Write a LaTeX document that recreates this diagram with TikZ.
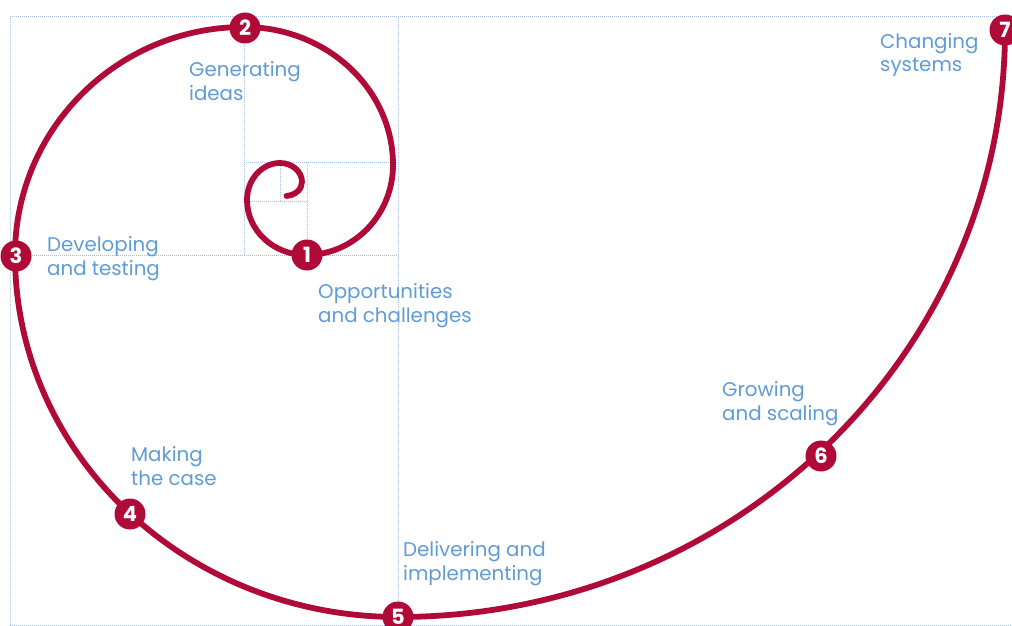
\documentclass[tikz,border=0pt]{standalone}
\usepackage{fontspec}
\setmainfont{Poppins}
\definecolor{crimson}{RGB}{176,10,56}
\definecolor{labelblue}{RGB}{95,155,213}
\definecolor{gridblue}{RGB}{165,192,228}
\begin{document}
\begin{tikzpicture}[x=1pt,y=-1pt,
  gridline/.style={draw=gridblue,line width=0.8pt,dash pattern=on 1pt off 1pt},
  spiral/.style={draw=crimson,line width=5.8pt,line cap=round},
  stepnum/.style={circle,fill=crimson,minimum size=31pt,inner sep=0pt,text=white,font=\fontsize{21}{21}\selectfont\bfseries},
  lbl/.style={anchor=base west,inner sep=0pt,align=left,text=labelblue,font=\fontsize{19.8}{24}\selectfont}]
\useasboundingbox (0,0) rectangle (1012,626);
% grid
\draw[gridline] (10,16) -- (1012,16);
\draw[gridline] (10,16) -- (10,625);
\draw[gridline] (10,625) -- (1012,625);
\draw[gridline] (398,16) -- (398,625);
\draw[gridline] (10,255) -- (398,255);
\draw[gridline] (244,16) -- (244,255);
\draw[gridline] (244,162) -- (398,162);
\draw[gridline] (307,162) -- (307,255);
\draw[gridline] (244,201) -- (307,201);
\draw[gridline] (280,162) -- (280,201);
% spiral
\coordinate (s7) at (1005,30);
\draw[spiral] (s7)
  arc[start angle=0,end angle=90,x radius=607,y radius=587]
  arc[start angle=90,end angle=180,x radius=383,y radius=362]
  arc[start angle=180,end angle=270,x radius=229,y radius=228]
  arc[start angle=270,end angle=360,x radius=149,y radius=138]
  arc[start angle=0,end angle=90,x radius=87,y radius=90]
  arc[start angle=90,end angle=180,x radius=59,y radius=55]
  arc[start angle=180,end angle=270,x radius=33,y radius=37]
  arc[start angle=270,end angle=360,x radius=22,y radius=19]
  arc[start angle=0,end angle=85,x radius=17,y radius=14];
% numbered steps
\node[stepnum] (n1) at (307,255) {1};
\node[stepnum] (n2) at (245,28) {2};
\node[stepnum] (n3) at (16,256) {3};
\node[stepnum] (n4) at (130,514) {4};
\node[stepnum] (n5) at (398,617) {5};
\node[stepnum] (n6) at (821,456) {6};
\node[stepnum] (n7) at (1005,30) {7};
% labels (anchor = baseline of last line)
\node[lbl] (l1) at (318,322) {Opportunities\\and challenges};
\node[lbl] (l2) at (189,100) {Generating\\ideas};
\node[lbl] (l3) at (47,275) {Developing\\and testing};
\node[lbl] (l4) at (131,485) {Making\\the case};
\node[lbl] (l5) at (403,580) {Delivering and\\implementing};
\node[lbl] (l6) at (722,420) {Growing\\and scaling};
\node[lbl] (l7) at (880,72) {Changing\\systems};
\end{tikzpicture}
\end{document}
